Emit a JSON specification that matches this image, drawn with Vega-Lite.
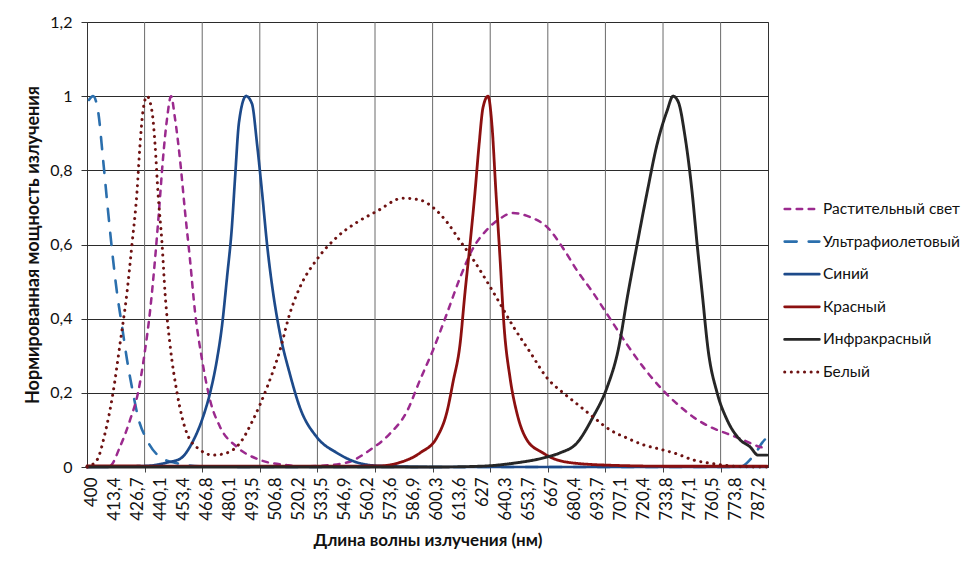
{
  "$schema": "https://vega.github.io/schema/vega-lite/v6.json",
  "width": 681,
  "height": 445,
  "autosize": {"type": "none"},
  "padding": {"left": 87, "top": 22, "right": 203, "bottom": 102},
  "background": "white",
  "config": {
    "font": "Lato",
    "view": {"stroke": "#333"},
    "axis": {"labelFont": "Lato", "titleFont": "Lato", "labelColor": "#111", "titleColor": "#111"}
  },
  "layer": [
    {
      "data": {"values": [{"g": 430.74}, {"g": 464.21}, {"g": 497.68}, {"g": 531.15}, {"g": 564.62}, {"g": 598.09}, {"g": 631.56}, {"g": 665.03}, {"g": 698.5}, {"g": 731.97}, {"g": 765.44}]},
      "mark": {"type": "rule", "color": "#6a6a6a", "strokeWidth": 1},
      "encoding": {
        "x": {
          "field": "g", "type": "quantitative",
          "scale": {"domain": [397.27, 792.97], "nice": false, "zero": false},
          "axis": {"orient": "bottom", "values": [430.74, 464.21, 497.68, 531.15, 564.62, 598.09, 631.56, 665.03, 698.5, 731.97, 765.44], "labels": false, "ticks": true, "tickSize": 5, "tickColor": "#444", "grid": false, "domain": true, "domainColor": "#222", "title": null}
        }
      }
    },
    {
      "data": {"values": [
        {"s": "Ультрафиолетовый", "w": 398.4, "v": 0.99},
        {"s": "Ультрафиолетовый", "w": 400.8, "v": 1.0},
        {"s": "Ультрафиолетовый", "w": 403.7, "v": 0.96},
        {"s": "Ультрафиолетовый", "w": 406.6, "v": 0.83},
        {"s": "Ультрафиолетовый", "w": 409.5, "v": 0.69},
        {"s": "Ультрафиолетовый", "w": 412.4, "v": 0.56},
        {"s": "Ультрафиолетовый", "w": 414.7, "v": 0.47},
        {"s": "Ультрафиолетовый", "w": 417.6, "v": 0.38},
        {"s": "Ультрафиолетовый", "w": 420.5, "v": 0.29},
        {"s": "Ультрафиолетовый", "w": 424.0, "v": 0.2},
        {"s": "Ультрафиолетовый", "w": 426.9, "v": 0.135},
        {"s": "Ультрафиолетовый", "w": 432.1, "v": 0.073},
        {"s": "Ультрафиолетовый", "w": 439.7, "v": 0.027},
        {"s": "Ультрафиолетовый", "w": 449.6, "v": 0.01},
        {"s": "Ультрафиолетовый", "w": 463.0, "v": 0.002},
        {"s": "Ультрафиолетовый", "w": 500, "v": 0},
        {"s": "Ультрафиолетовый", "w": 600, "v": 0},
        {"s": "Ультрафиолетовый", "w": 700, "v": 0},
        {"s": "Ультрафиолетовый", "w": 776.8, "v": 0},
        {"s": "Ультрафиолетовый", "w": 778.5, "v": 0.003},
        {"s": "Ультрафиолетовый", "w": 782.6, "v": 0.02},
        {"s": "Ультрафиолетовый", "w": 786.1, "v": 0.04},
        {"s": "Ультрафиолетовый", "w": 789.5, "v": 0.065},
        {"s": "Ультрафиолетовый", "w": 791.3, "v": 0.075},

        {"s": "Растительный свет", "w": 397.3, "v": 0},
        {"s": "Растительный свет", "w": 410.6, "v": 0.003},
        {"s": "Растительный свет", "w": 416.4, "v": 0.054},
        {"s": "Растительный свет", "w": 422.3, "v": 0.127},
        {"s": "Растительный свет", "w": 426.9, "v": 0.2},
        {"s": "Растительный свет", "w": 431.0, "v": 0.315},
        {"s": "Растительный свет", "w": 433.9, "v": 0.42},
        {"s": "Растительный свет", "w": 436.8, "v": 0.56},
        {"s": "Растительный свет", "w": 439.1, "v": 0.69},
        {"s": "Растительный свет", "w": 441.4, "v": 0.83},
        {"s": "Растительный свет", "w": 443.8, "v": 0.94},
        {"s": "Растительный свет", "w": 446.1, "v": 1.0},
        {"s": "Растительный свет", "w": 448.4, "v": 0.94},
        {"s": "Растительный свет", "w": 451.3, "v": 0.83},
        {"s": "Растительный свет", "w": 454.2, "v": 0.69},
        {"s": "Растительный свет", "w": 457.1, "v": 0.56},
        {"s": "Растительный свет", "w": 460.0, "v": 0.42},
        {"s": "Растительный свет", "w": 464.1, "v": 0.29},
        {"s": "Растительный свет", "w": 468.8, "v": 0.18},
        {"s": "Растительный свет", "w": 474.6, "v": 0.108},
        {"s": "Растительный свет", "w": 484.4, "v": 0.054},
        {"s": "Растительный свет", "w": 497.8, "v": 0.019},
        {"s": "Растительный свет", "w": 513.5, "v": 0.005},
        {"s": "Растительный свет", "w": 521.0, "v": 0.002},
        {"s": "Растительный свет", "w": 530.9, "v": 0.003},
        {"s": "Растительный свет", "w": 548.3, "v": 0.012},
        {"s": "Растительный свет", "w": 561.7, "v": 0.046},
        {"s": "Растительный свет", "w": 573.3, "v": 0.09},
        {"s": "Растительный свет", "w": 583.2, "v": 0.15},
        {"s": "Растительный свет", "w": 590.8, "v": 0.235},
        {"s": "Растительный свет", "w": 598.3, "v": 0.315},
        {"s": "Растительный свет", "w": 606.5, "v": 0.415},
        {"s": "Растительный свет", "w": 614.0, "v": 0.51},
        {"s": "Растительный свет", "w": 621.6, "v": 0.59},
        {"s": "Растительный свет", "w": 629.7, "v": 0.64},
        {"s": "Растительный свет", "w": 637.3, "v": 0.67},
        {"s": "Растительный свет", "w": 644.8, "v": 0.685},
        {"s": "Растительный свет", "w": 654.7, "v": 0.674},
        {"s": "Растительный свет", "w": 664.6, "v": 0.647},
        {"s": "Растительный свет", "w": 673.9, "v": 0.59},
        {"s": "Растительный свет", "w": 682.0, "v": 0.53},
        {"s": "Растительный свет", "w": 691.3, "v": 0.47},
        {"s": "Растительный свет", "w": 701.2, "v": 0.4},
        {"s": "Растительный свет", "w": 711.1, "v": 0.33},
        {"s": "Растительный свет", "w": 720.4, "v": 0.27},
        {"s": "Растительный свет", "w": 730.3, "v": 0.215},
        {"s": "Растительный свет", "w": 740.2, "v": 0.17},
        {"s": "Растительный свет", "w": 749.5, "v": 0.135},
        {"s": "Растительный свет", "w": 759.4, "v": 0.108},
        {"s": "Растительный свет", "w": 769.2, "v": 0.09},
        {"s": "Растительный свет", "w": 778.5, "v": 0.073},
        {"s": "Растительный свет", "w": 788.4, "v": 0.054},
        {"s": "Растительный свет", "w": 792.4, "v": 0.05},

        {"s": "Синий", "w": 397.3, "v": 0},
        {"s": "Синий", "w": 432.1, "v": 0.003},
        {"s": "Синий", "w": 443.8, "v": 0.012},
        {"s": "Синий", "w": 451.3, "v": 0.022},
        {"s": "Синий", "w": 458.9, "v": 0.07},
        {"s": "Синий", "w": 464.7, "v": 0.135},
        {"s": "Синий", "w": 468.8, "v": 0.2},
        {"s": "Синий", "w": 472.8, "v": 0.29},
        {"s": "Синий", "w": 475.7, "v": 0.38},
        {"s": "Синий", "w": 478.6, "v": 0.51},
        {"s": "Синий", "w": 481.5, "v": 0.65},
        {"s": "Синий", "w": 483.3, "v": 0.78},
        {"s": "Синий", "w": 485.6, "v": 0.93},
        {"s": "Синий", "w": 489.7, "v": 1.0},
        {"s": "Синий", "w": 493.1, "v": 0.98},
        {"s": "Синий", "w": 496.1, "v": 0.87},
        {"s": "Синий", "w": 499.0, "v": 0.74},
        {"s": "Синий", "w": 501.9, "v": 0.6},
        {"s": "Синий", "w": 505.4, "v": 0.47},
        {"s": "Синий", "w": 509.4, "v": 0.36},
        {"s": "Синий", "w": 515.2, "v": 0.25},
        {"s": "Синий", "w": 521.0, "v": 0.16},
        {"s": "Синий", "w": 530.9, "v": 0.08},
        {"s": "Синий", "w": 542.5, "v": 0.038},
        {"s": "Синий", "w": 555.9, "v": 0.01},
        {"s": "Синий", "w": 567.5, "v": 0.003},
        {"s": "Синий", "w": 600, "v": 0},
        {"s": "Синий", "w": 700, "v": 0},
        {"s": "Синий", "w": 792.4, "v": 0},

        {"s": "Красный", "w": 397.3, "v": 0.003},
        {"s": "Красный", "w": 521.0, "v": 0.002},
        {"s": "Красный", "w": 567.5, "v": 0.003},
        {"s": "Красный", "w": 577.4, "v": 0.01},
        {"s": "Красный", "w": 590.8, "v": 0.038},
        {"s": "Красный", "w": 600.6, "v": 0.08},
        {"s": "Красный", "w": 606.5, "v": 0.15},
        {"s": "Красный", "w": 610.0, "v": 0.23},
        {"s": "Красный", "w": 614.0, "v": 0.33},
        {"s": "Красный", "w": 616.9, "v": 0.47},
        {"s": "Красный", "w": 619.8, "v": 0.6},
        {"s": "Красный", "w": 622.7, "v": 0.74},
        {"s": "Красный", "w": 625.1, "v": 0.87},
        {"s": "Красный", "w": 627.4, "v": 0.97},
        {"s": "Красный", "w": 630.3, "v": 1.0},
        {"s": "Красный", "w": 632.6, "v": 0.92},
        {"s": "Красный", "w": 634.9, "v": 0.74},
        {"s": "Красный", "w": 637.3, "v": 0.56},
        {"s": "Красный", "w": 639.6, "v": 0.38},
        {"s": "Красный", "w": 643.1, "v": 0.24},
        {"s": "Красный", "w": 647.1, "v": 0.145},
        {"s": "Красный", "w": 652.9, "v": 0.073},
        {"s": "Красный", "w": 662.2, "v": 0.038},
        {"s": "Красный", "w": 666.3, "v": 0.027},
        {"s": "Красный", "w": 676.2, "v": 0.013},
        {"s": "Красный", "w": 699.5, "v": 0.005},
        {"s": "Красный", "w": 737.8, "v": 0.002},
        {"s": "Красный", "w": 792.4, "v": 0.002},

        {"s": "Инфракрасный", "w": 397.3, "v": 0},
        {"s": "Инфракрасный", "w": 600, "v": 0},
        {"s": "Инфракрасный", "w": 625.6, "v": 0.002},
        {"s": "Инфракрасный", "w": 644.8, "v": 0.01},
        {"s": "Инфракрасный", "w": 664.6, "v": 0.027},
        {"s": "Инфракрасный", "w": 672.1, "v": 0.038},
        {"s": "Инфракрасный", "w": 682.0, "v": 0.065},
        {"s": "Инфракрасный", "w": 691.3, "v": 0.135},
        {"s": "Инфракрасный", "w": 699.5, "v": 0.215},
        {"s": "Инфракрасный", "w": 705.9, "v": 0.315},
        {"s": "Инфракрасный", "w": 711.7, "v": 0.47},
        {"s": "Инфракрасный", "w": 716.9, "v": 0.6},
        {"s": "Инфракрасный", "w": 722.7, "v": 0.74},
        {"s": "Инфракрасный", "w": 728.5, "v": 0.87},
        {"s": "Инфракрасный", "w": 734.3, "v": 0.96},
        {"s": "Инфракрасный", "w": 737.8, "v": 1.0},
        {"s": "Инфракрасный", "w": 740.8, "v": 0.985},
        {"s": "Инфракрасный", "w": 744.8, "v": 0.89},
        {"s": "Инфракрасный", "w": 748.9, "v": 0.74},
        {"s": "Инфракрасный", "w": 751.8, "v": 0.6},
        {"s": "Инфракрасный", "w": 754.7, "v": 0.47},
        {"s": "Инфракрасный", "w": 758.2, "v": 0.315},
        {"s": "Инфракрасный", "w": 763.4, "v": 0.2},
        {"s": "Инфракрасный", "w": 769.2, "v": 0.127},
        {"s": "Инфракрасный", "w": 776.8, "v": 0.073},
        {"s": "Инфракрасный", "w": 782.6, "v": 0.054},
        {"s": "Инфракрасный", "w": 787.2, "v": 0.032},
        {"s": "Инфракрасный", "w": 792.4, "v": 0.032},

        {"s": "Белый", "w": 397.3, "v": 0},
        {"s": "Белый", "w": 403.1, "v": 0.019},
        {"s": "Белый", "w": 407.7, "v": 0.09},
        {"s": "Белый", "w": 412.4, "v": 0.2},
        {"s": "Белый", "w": 416.4, "v": 0.33},
        {"s": "Белый", "w": 420.5, "v": 0.47},
        {"s": "Белый", "w": 423.4, "v": 0.6},
        {"s": "Белый", "w": 426.3, "v": 0.74},
        {"s": "Белый", "w": 428.1, "v": 0.87},
        {"s": "Белый", "w": 429.8, "v": 0.96},
        {"s": "Белый", "w": 432.1, "v": 1.0},
        {"s": "Белый", "w": 435.0, "v": 0.96},
        {"s": "Белый", "w": 436.8, "v": 0.87},
        {"s": "Белый", "w": 438.5, "v": 0.74},
        {"s": "Белый", "w": 440.9, "v": 0.6},
        {"s": "Белый", "w": 442.6, "v": 0.47},
        {"s": "Белый", "w": 445.5, "v": 0.33},
        {"s": "Белый", "w": 449.6, "v": 0.2},
        {"s": "Белый", "w": 455.4, "v": 0.09},
        {"s": "Белый", "w": 463.0, "v": 0.046},
        {"s": "Белый", "w": 470.5, "v": 0.032},
        {"s": "Белый", "w": 478.6, "v": 0.038},
        {"s": "Белый", "w": 486.2, "v": 0.065},
        {"s": "Белый", "w": 493.7, "v": 0.127},
        {"s": "Белый", "w": 501.9, "v": 0.215},
        {"s": "Белый", "w": 509.4, "v": 0.315},
        {"s": "Белый", "w": 515.2, "v": 0.415},
        {"s": "Белый", "w": 521.0, "v": 0.485},
        {"s": "Белый", "w": 530.9, "v": 0.56},
        {"s": "Белый", "w": 542.5, "v": 0.62},
        {"s": "Белый", "w": 554.2, "v": 0.66},
        {"s": "Белый", "w": 565.8, "v": 0.69},
        {"s": "Белый", "w": 580.9, "v": 0.725},
        {"s": "Белый", "w": 590.8, "v": 0.72},
        {"s": "Белый", "w": 598.3, "v": 0.7},
        {"s": "Белый", "w": 606.5, "v": 0.66},
        {"s": "Белый", "w": 614.0, "v": 0.61},
        {"s": "Белый", "w": 621.6, "v": 0.56},
        {"s": "Белый", "w": 629.7, "v": 0.5},
        {"s": "Белый", "w": 637.3, "v": 0.44},
        {"s": "Белый", "w": 644.8, "v": 0.38},
        {"s": "Белый", "w": 654.7, "v": 0.31},
        {"s": "Белый", "w": 664.6, "v": 0.24},
        {"s": "Белый", "w": 673.9, "v": 0.2},
        {"s": "Белый", "w": 682.0, "v": 0.17},
        {"s": "Белый", "w": 691.3, "v": 0.135},
        {"s": "Белый", "w": 701.2, "v": 0.1},
        {"s": "Белый", "w": 711.1, "v": 0.078},
        {"s": "Белый", "w": 720.4, "v": 0.06},
        {"s": "Белый", "w": 730.3, "v": 0.048},
        {"s": "Белый", "w": 740.2, "v": 0.035},
        {"s": "Белый", "w": 749.5, "v": 0.019},
        {"s": "Белый", "w": 759.4, "v": 0.01},
        {"s": "Белый", "w": 769.2, "v": 0.004},
        {"s": "Белый", "w": 776.8, "v": 0.001},
        {"s": "Белый", "w": 792.4, "v": 0}
      ]},
      "mark": {"type": "line", "interpolate": "monotone", "strokeCap": "round", "strokeJoin": "round"},
      "encoding": {
        "x": {
          "field": "w", "type": "quantitative",
          "scale": {"domain": [397.27, 792.97], "nice": false, "zero": false},
          "axis": {
            "orient": "bottom",
            "values": [400, 413.4, 426.7, 440.1, 453.4, 466.8, 480.1, 493.5, 506.8, 520.2, 533.5, 546.9, 560.2, 573.6, 586.9, 600.3, 613.6, 627, 640.3, 653.7, 667, 680.4, 693.7, 707.1, 720.4, 733.8, 747.1, 760.5, 773.8, 787.2],
            "labelExpr": "replace(format(datum.value, '~g'), '.', ',')",
            "labelAngle": -90,
            "labelFontSize": 17,
            "labelPadding": 10,
            "labelOverlap": false,
            "labelFlush": false,
            "labelBound": false,
            "ticks": false,
            "grid": false,
            "domain": false,
            "title": "Длина волны излучения (нм)",
            "titleFontSize": 17,
            "titleFontWeight": "bold",
            "titlePadding": 12
          }
        },
        "y": {
          "field": "v", "type": "quantitative",
          "scale": {"domain": [0, 1.2], "nice": false},
          "axis": {
            "values": [0, 0.2, 0.4, 0.6, 0.8, 1, 1.2],
            "labelExpr": "replace(format(datum.value, '~g'), '.', ',')",
            "labelFontSize": 16,
            "labelPadding": 9,
            "ticks": true,
            "tickSize": 6,
            "tickColor": "#333",
            "grid": true,
            "gridColor": "#2b2b2b",
            "gridWidth": 1,
            "gridOpacity": 1,
            "domain": false,
            "title": "Нормированная мощность излучения",
            "titleFontSize": 18,
            "titleFontWeight": "bold",
            "titlePadding": 7
          }
        },
        "color": {
          "field": "s", "type": "nominal",
          "scale": {
            "domain": ["Растительный свет", "Ультрафиолетовый", "Синий", "Красный", "Инфракрасный", "Белый"],
            "range": ["#9b2a8e", "#2b6fad", "#1d4a8a", "#8c1010", "#262626", "#6e1212"]
          },
          "legend": {
            "title": null,
            "orient": "none",
            "legendX": 696,
            "legendY": 168,
            "symbolType": "stroke",
            "symbolSize": 1200,
            "symbolStrokeWidth": 2.5,
            "labelFontSize": 15.5,
            "labelColor": "#111",
            "labelOffset": 2,
            "rowPadding": 4.6,
            "encode": {"symbols": {"update": {"strokeCap": {"value": "round"}}}}
          }
        },
        "strokeDash": {
          "field": "s", "type": "nominal",
          "scale": {
            "domain": ["Растительный свет", "Ультрафиолетовый", "Синий", "Красный", "Инфракрасный", "Белый"],
            "range": [[5.5, 6.5], [12, 12], [1, 0], [1, 0], [1, 0], [0.1, 6.5]]
          },
          "legend": {
            "title": null,
            "orient": "none",
            "legendX": 696,
            "legendY": 168,
            "symbolType": "stroke",
            "symbolSize": 1200,
            "symbolStrokeWidth": 2.5,
            "labelFontSize": 15.5,
            "labelColor": "#111",
            "labelOffset": 2,
            "rowPadding": 4.6,
            "encode": {"symbols": {"update": {"strokeCap": {"value": "round"}}}}
          }
        },
        "strokeWidth": {
          "field": "s", "type": "nominal",
          "scale": {
            "domain": ["Растительный свет", "Ультрафиолетовый", "Синий", "Красный", "Инфракрасный", "Белый"],
            "range": [2.5, 3, 2.5, 2.5, 2.5, 3.5]
          },
          "legend": null
        }
      }
    }
  ],
  "resolve": {"scale": {"x": "independent"}}
}
